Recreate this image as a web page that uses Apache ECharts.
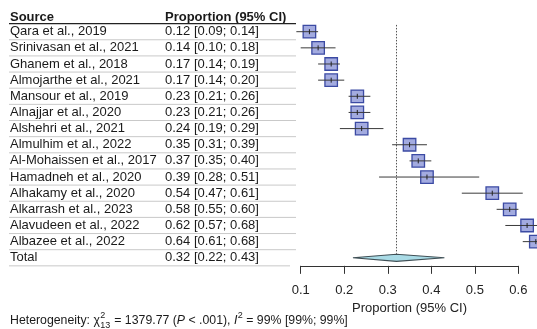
<!DOCTYPE html>
<html><head><meta charset="utf-8">
<script src="https://cdn.jsdelivr.net/npm/echarts@6/dist/echarts.min.js"></script>
<style>html,body{margin:0;padding:0;background:#fff}#c{width:537px;height:329px}</style>
</head><body><div id="c"></div>
<script>
const sources = ['Qara et al., 2019','Srinivasan et al., 2021','Ghanem et al., 2018','Almojarthe et al., 2021','Mansour et al., 2019','Alnajjar et al., 2020','Alshehri et al., 2021','Almulhim et al., 2022','Al-Mohaissen et al., 2017','Hamadneh et al., 2020','Alhakamy et al., 2020','Alkarrash et al., 2023','Alavudeen et al., 2022','Albazee et al., 2022'];
const estimates = [0.12,0.14,0.17,0.17,0.23,0.23,0.24,0.35,0.37,0.39,0.54,0.58,0.62,0.64];
const lowers    = [0.09,0.10,0.14,0.14,0.21,0.21,0.19,0.31,0.35,0.28,0.47,0.55,0.57,0.61];
const uppers    = [0.14,0.18,0.19,0.20,0.26,0.26,0.29,0.39,0.40,0.51,0.61,0.60,0.68,0.68];
const totalName = 'Total';
const totalEst = 0.32, totalLo = 0.22, totalHi = 0.43;
const headers = ['Source','Proportion (95% CI)'];
const xTicks = [0.1,0.2,0.3,0.4,0.5,0.6];
const axisTitle = 'Proportion (95% CI)';

const FONT = '"Liberation Sans", Arial, sans-serif';
const fmt = (e,l,u) => e.toFixed(2)+' ['+l.toFixed(2)+'; '+u.toFixed(2)+']';
const rows = sources.map((s,i)=>({name:s, ci:fmt(estimates[i],lowers[i],uppers[i])}));
rows.push({name: totalName, ci: fmt(totalEst,totalLo,totalHi)});
const nRows = rows.length;

const chart = echarts.init(document.getElementById('c'), null, {renderer:'canvas'});

function txt(x,y,text,font,align){
  return {type:'text', style:{text:text, x:x, y:y, font:font, fill:'#1a1a1a',
    textAlign:align||'left', textVerticalAlign:'middle', align:align||'left', verticalAlign:'middle'}};
}

const option = {
  animation:false,
  backgroundColor:'#fff',
  grid:{left:300.7, right:18.6, top:15.55, height:250.3, containLabel:false},
  xAxis:{type:'value', min:0.1, max:0.6, interval:0.1, position:'bottom',
    axisLine:{show:true, onZero:false, lineStyle:{color:'#333', width:1}},
    axisTick:{show:true, length:8, lineStyle:{color:'#333'}},
    axisLabel:{fontSize:13, fontFamily:FONT, color:'#222', margin:18,
      formatter:v=>{const t=xTicks.find(k=>Math.abs(k-v)<1e-6);return t!==undefined?t.toFixed(1):'';}},
    splitLine:{show:false},
    name:axisTitle, nameLocation:'middle', nameGap:32,
    nameTextStyle:{fontSize:13, fontFamily:FONT, color:'#222'}},
  yAxis:{type:'value', min:-1, max:14.5, inverse:true, show:false},
  series:[
    { // table separator lines + text
      type:'custom', clip:false, silent:true,
      data: rows.map((r,i)=>[0.1,i]),
      renderItem:(params, api)=>{
        const i = api.value(1);
        const y = api.coord([0.1,i])[1];
        const yl = api.coord([0.1,i+0.5])[1];
        const yh = api.coord([0.1,i-0.5])[1];
        const r = rows[i];
        const ch = [];
        if(i>0) ch.push({type:'line', shape:{x1:9,y1:yh,x2:296,y2:yh}, style:{stroke:'#c9c9c9', lineWidth:1}});
        if(i===nRows-1) ch.push({type:'line', shape:{x1:9,y1:yl,x2:290,y2:yl}, style:{stroke:'#c9c9c9', lineWidth:1}});
        ch.push(txt(10,y,r.name,'13px '+FONT));
        ch.push(txt(165,y,r.ci,'13px '+FONT));
        return {type:'group', children:ch};
      }
    },
    { // header
      type:'custom', clip:false, silent:true,
      data:[[0.1,-0.9]],
      renderItem:(params, api)=>{
        const y = api.coord([0.1,-0.9])[1];
        const yl = api.coord([0.1,-0.5])[1];
        return {type:'group', children:[
          txt(10,y,headers[0],'bold 13px '+FONT),
          txt(165,y,headers[1],'bold 13px '+FONT),
          {type:'line', shape:{x1:9,y1:yl,x2:296,y2:yl}, style:{stroke:'#222', lineWidth:1.2}}
        ]};
      }
    },
    { // reference dotted line at total
      type:'custom', clip:false, silent:true, z:1,
      data:[[totalEst,-0.42,13.75]],
      renderItem:(params, api)=>{
        const p1 = api.coord([api.value(0), api.value(1)]);
        const p2 = api.coord([api.value(0), api.value(2)]);
        return {type:'line', shape:{x1:Math.round(p1[0])+0.5,y1:p1[1],x2:Math.round(p1[0])+0.5,y2:p2[1]},
          style:{stroke:'#555', lineWidth:1, lineDash:[1.5,1.5]}};
      }
    },
    { // studies
      type:'custom', clip:false, silent:true, z:3,
      data: estimates.map((e,i)=>[e,lowers[i],uppers[i],i]),
      renderItem:(params, api)=>{
        const e=api.value(0), lo=api.value(1), hi=api.value(2), i=api.value(3);
        const c = api.coord([e,i]);
        const pl = api.coord([lo,i]), ph = api.coord([hi,i]);
        const s = 12.5;
        return {type:'group', children:[
          {type:'rect', shape:{x:c[0]-s/2, y:c[1]-s/2, width:s, height:s},
            style:{fill:'#a3abe0', stroke:'#3b4aa3', lineWidth:1.3}},
          {type:'line', shape:{x1:pl[0],y1:c[1],x2:ph[0],y2:c[1]}, style:{stroke:'#3a3a3a', lineWidth:1}},
          {type:'line', shape:{x1:c[0],y1:c[1]-2.5,x2:c[0],y2:c[1]+2.5}, style:{stroke:'#222', lineWidth:1}}
        ]};
      }
    },
    { // total diamond
      type:'custom', clip:false, silent:true, z:4,
      data:[[totalEst,totalLo,totalHi,nRows-1]],
      renderItem:(params, api)=>{
        const e=api.value(0), lo=api.value(1), hi=api.value(2), i=api.value(3);
        const c = api.coord([e,i]);
        const pl = api.coord([lo,i]), ph = api.coord([hi,i]);
        const h = 3.5;
        return {type:'polygon', shape:{points:[[pl[0],c[1]],[c[0],c[1]-h],[ph[0],c[1]],[c[0],c[1]+h]]},
          style:{fill:'#a9dbe6', stroke:'#3f4f55', lineWidth:1.2}};
      }
    }
  ]
};
chart.setOption(option);

// heterogeneity footnote
(function(){
  const fs = 12.3, small = 9;
  const ctx = document.createElement('canvas').getContext('2d');
  const w = (t,f)=>{ctx.font=f; return ctx.measureText(t).width;};
  const fN = fs+'px '+FONT, fI = 'italic '+fs+'px '+FONT, fS = small+'px '+FONT;
  const y = 321;
  let x = 10;
  const els = [];
  const put = (t,f,dy)=>{els.push({type:'text', x:x, y:y+(dy||0), style:{text:t, font:f, fill:'#1a1a1a', textVerticalAlign:'middle', verticalAlign:'middle'}}); x += w(t,f);};
  put('Heterogeneity: \u03c7', fN);
  const xs = x+0.5;
  els.push({type:'text', x:xs, y:y-5.5, style:{text:'2', font:fS, fill:'#1a1a1a', textVerticalAlign:'middle', verticalAlign:'middle'}});
  els.push({type:'text', x:xs, y:y+4.5, style:{text:'13', font:fS, fill:'#1a1a1a', textVerticalAlign:'middle', verticalAlign:'middle'}});
  x = xs + w('13',fS) + 0.5;
  put(' = 1379.77 (', fN);
  put('P', fI);
  put(' < .001), ', fN);
  put('I', fI);
  els.push({type:'text', x:x+0.5, y:y-5.5, style:{text:'2', font:fS, fill:'#1a1a1a', textVerticalAlign:'middle', verticalAlign:'middle'}});
  x += w('2',fS)+0.5;
  put(' = 99% [99%; 99%]', fN);
  chart.setOption({graphic:els});
})();
</script></body></html>
